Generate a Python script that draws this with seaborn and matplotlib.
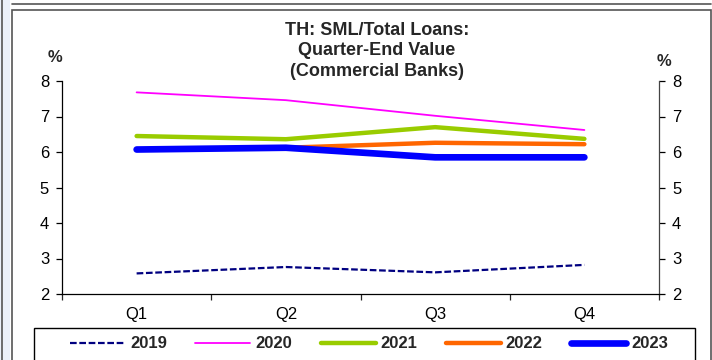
import pandas as pd
import matplotlib.pyplot as plt
import matplotlib.patches as mpatches
from matplotlib.lines import Line2D
from matplotlib.ticker import FixedLocator
import seaborn as sns

quarters = ['Q1', 'Q2', 'Q3', 'Q4']
years = ['2019', '2020', '2021', '2022', '2023']
sml_2019 = [2.58, 2.76, 2.61, 2.82]
sml_2020 = [7.68, 7.46, 7.02, 6.62]
sml_2021 = [6.45, 6.36, 6.70, 6.37]
sml_2022 = [6.07, 6.12, 6.26, 6.22]
sml_2023 = [6.07, 6.12, 5.85, 5.85]

colors = {'2019': '#000080', '2020': '#FF00FF', '2021': '#99CC00',
          '2022': '#FF6600', '2023': '#0000FF'}
widths = {'2019': 1.6, '2020': 1.3, '2021': 3.2, '2022': 3.2, '2023': 4.8}
dash_2019 = (3, 1.2)

data = pd.DataFrame({'quarter': quarters, '2019': sml_2019, '2020': sml_2020,
                     '2021': sml_2021, '2022': sml_2022, '2023': sml_2023})
long_data = pd.melt(data, id_vars='quarter', var_name='year', value_name='value')

sns.set_theme(style='white')
plt.rcParams['font.family'] = ['Liberation Sans', 'DejaVu Sans']

fig = plt.figure(figsize=(7.12, 3.6), dpi=100)
ax = fig.add_axes([62 / 712, 1 - 294 / 360, (659 - 62) / 712, (294 - 81) / 360])

for yr in years:
    sub = long_data[long_data['year'] == yr]
    sns.lineplot(data=sub, x='quarter', y='value', ax=ax, color=colors[yr],
                 lw=widths[yr], solid_capstyle='round', legend=False)
ax.lines[0].set_dashes(dash_2019)

ax.set_xlim(-0.5, 3.5)
ax.set_ylim(2, 8)
ax.set_yticks(range(2, 9))
ax.set_xticks(range(4))
ax.set_xticklabels(quarters)
ax.xaxis.set_minor_locator(FixedLocator([-0.5, 0.5, 1.5, 2.5, 3.5]))
ax.set_xlabel('')
ax.set_ylabel('')
for s in ['left', 'bottom', 'right']:
    ax.spines[s].set_visible(True)
    ax.spines[s].set_color('black')
    ax.spines[s].set_linewidth(0.9)
ax.spines['right'].set_color('#444444')
ax.spines['top'].set_visible(False)
ax.tick_params(axis='y', which='major', left=True, right=True, labelright=True,
               direction='out', length=4.3, width=0.9, labelsize=12, pad=5, colors='black')
ax.tick_params(axis='x', which='major', length=0, labelsize=12, pad=9, colors='black')
ax.tick_params(axis='x', which='minor', bottom=True, direction='out', length=4.3, width=0.9)

fig.text(377 / 712, 1 - 22 / 360, 'TH: SML/Total Loans:\nQuarter-End Value\n(Commercial Banks)',
         ha='center', va='top', fontsize=13, fontweight='bold', linespacing=1.25)
fig.text(55 / 712, 1 - 58 / 360, '%', ha='center', va='center', fontsize=12, fontweight='bold')
fig.text(664 / 712, 1 - 62 / 360, '%', ha='center', va='center', fontsize=12, fontweight='bold')

# frames
fig.add_artist(mpatches.Rectangle((12 / 712, -0.05), (711 - 12) / 712, 1 - 10 / 360 + 0.05,
                                  transform=fig.transFigure, fill=False,
                                  edgecolor='#555555', lw=1.2))
fig.add_artist(Line2D([12 / 712, 711 / 712], [1 - 3.5 / 360] * 2,
                      transform=fig.transFigure, color='#555555', lw=1.2))
fig.add_artist(mpatches.Rectangle((0, 0), 10 / 712, 1, transform=fig.transFigure,
                                  facecolor='#EAF0FA', edgecolor='none'))
fig.add_artist(Line2D([2 / 712] * 2, [0, 1], transform=fig.transFigure, color='#555555', lw=1.2))
fig.add_artist(mpatches.Rectangle((34 / 712, -0.05), (695 - 34) / 712, 1 - 328 / 360 + 0.05,
                                  transform=fig.transFigure, fill=False,
                                  edgecolor='black', lw=1.0))

handles = [Line2D([0], [0], color=colors[yr], lw=widths[yr],
                  linestyle=(0, dash_2019) if yr == '2019' else '-',
                  solid_capstyle='round') for yr in years]
fig.legend(handles, years, loc='center', bbox_to_anchor=(369 / 712, 1 - 344 / 360),
           ncol=5, frameon=False, handlelength=3.3, handletextpad=0.3, columnspacing=1.7,
           prop={'size': 12, 'weight': 'bold'})

fig.savefig('out.png', dpi=100)
